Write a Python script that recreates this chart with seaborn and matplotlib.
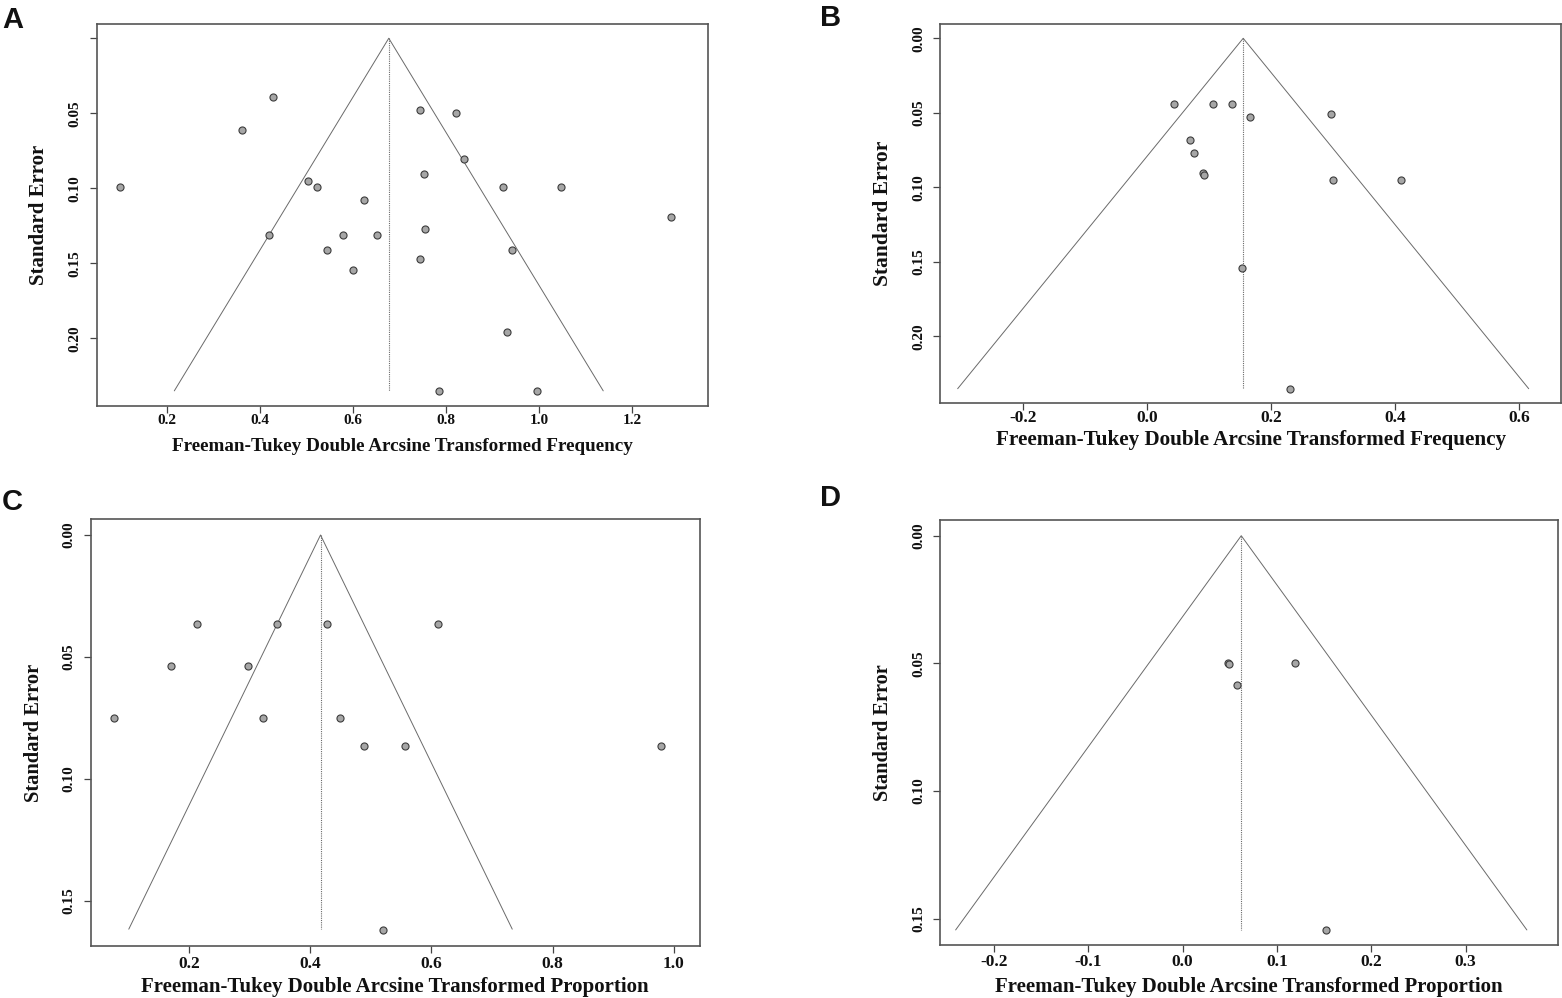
"""
Funnel plots (A-D) for Freeman-Tukey double arcsine transformed estimates.
"""

import matplotlib
matplotlib.use('Agg')
import matplotlib.pyplot as plt
import seaborn as sns
import pandas as pd

W, H = 1562, 998
Z = 1.96

# ---- data -------------------------------------------------------------
# A: transformed frequency
a_est = [0.4283, 0.3620, 0.7438, 0.8208, 0.8379, 0.7534, 0.0999, 0.5031,
         0.5235, 0.9224, 1.0475, 0.6240, 1.2828, 0.7545, 0.4197, 0.5791,
         0.6507, 0.5448, 0.9427, 0.7438, 0.5994, 0.9320, 0.7855, 0.9962]
a_se = [0.0389, 0.0609, 0.0480, 0.0496, 0.0804, 0.0904, 0.0989, 0.0951,
        0.0989, 0.0989, 0.0989, 0.1078, 0.1193, 0.1269, 0.1313, 0.1313,
        0.1313, 0.1413, 0.1413, 0.1473, 0.1542, 0.1960, 0.2350, 0.2350]
a_center = 0.677
a_se_max = 0.235

# B: transformed frequency
b_est = [0.0434, 0.1052, 0.1365, 0.1655, 0.2972, 0.0683, 0.0755, 0.0892,
         0.0908, 0.3004, 0.4096, 0.1526, 0.2305]
b_se = [0.0438, 0.0438, 0.0438, 0.0528, 0.0506, 0.0682, 0.0767, 0.0902,
        0.0919, 0.0953, 0.0953, 0.1541, 0.2352]
b_center = 0.1547
b_se_max = 0.2352

# C: transformed proportion
c_est = [0.2139, 0.3451, 0.4270, 0.6115, 0.1697, 0.2967, 0.0762, 0.3213,
         0.4492, 0.4885, 0.5566, 0.9795, 0.5205]
c_se = [0.0365, 0.0365, 0.0365, 0.0365, 0.0536, 0.0536, 0.0750, 0.0750,
        0.0750, 0.0863, 0.0863, 0.0863, 0.1620]
c_center = 0.417
c_se_max = 0.1615

# D: transformed proportion
d_est = [0.0485, 0.0496, 0.1192, 0.0575, 0.1524]
d_se = [0.0499, 0.0501, 0.0497, 0.0585, 0.1544]
d_center = 0.0622
d_se_max = 0.1544

a_xticks = [0.2, 0.4, 0.6, 0.8, 1.0, 1.2]
b_xticks = [-0.2, 0.0, 0.2, 0.4, 0.6]
c_xticks = [0.2, 0.4, 0.6, 0.8, 1.0]
d_xticks = [-0.2, -0.1, 0.0, 0.1, 0.2, 0.3]
ab_yticks = [0.00, 0.05, 0.10, 0.15, 0.20]
cd_yticks = [0.00, 0.05, 0.10, 0.15]
a_yticklabels = ['', '0.05', '0.10', '0.15', '0.20']

freq_label = 'Freeman-Tukey Double Arcsine Transformed Frequency'
prop_label = 'Freeman-Tukey Double Arcsine Transformed Proportion'
se_label = 'Standard Error'

sns.set_style('white')
plt.rcParams['font.family'] = ['Liberation Serif', 'DejaVu Serif']
plt.rcParams['font.weight'] = 'bold'


def px_axes(fig, x0, x1, y0, y1):
    """Add axes from a pixel box (top-left origin)."""
    return fig.add_axes([x0 / W, 1 - y1 / H, (x1 - x0) / W, (y1 - y0) / H])


def funnel(ax, est, se, center, se_max, xlim, ylim, xticks, yticks,
           xlabel, yticklabels=None, xtick_fs=12.5, ytick_fs=11,
           xlab_fs=15, ylab_fs=14.5, xpad=2, ypad=6.5,
           xlab_off=40, ylab_off=57, box=(600, 400)):
    df = pd.DataFrame({'est': est, 'se': se})
    # funnel limits and centre line
    ax.plot([center - Z * se_max, center, center + Z * se_max],
            [se_max, 0, se_max], color='#6a6a6a', lw=0.7, zorder=1)
    ax.plot([center, center], [0, se_max], color='#6a6a6a', lw=0.8,
            ls=(0, (1, 1)), zorder=1)
    sns.scatterplot(data=df, x='est', y='se', ax=ax, s=26, color='#a6a6a6',
                    edgecolor='#3c3c3c', linewidth=0.8, zorder=3, legend=False)

    ax.set_xlim(*xlim)
    ax.set_ylim(*ylim)
    ax.set_xticks(xticks)
    ax.set_xticklabels([f'{t:.1f}' for t in xticks], fontsize=xtick_fs,
                       fontweight='bold')
    ax.set_yticks(yticks)
    if yticklabels is None:
        yticklabels = [f'{t:.2f}' for t in yticks]
    ax.set_yticklabels(yticklabels, fontsize=ytick_fs, fontweight='bold',
                       rotation=90, va='center')
    ax.tick_params(bottom=True, left=True, direction='out', length=5,
                   width=0.9, color='#444444', labelcolor='#111111')
    ax.tick_params(axis='x', pad=xpad)
    ax.tick_params(axis='y', pad=ypad)
    for sp in ax.spines.values():
        sp.set_visible(True)
        sp.set_color('#555555')
        sp.set_linewidth(1.2)

    bw, bh = box
    ax.set_xlabel(xlabel, fontsize=xlab_fs, fontweight='bold', color='#111111')
    ax.set_ylabel(se_label, fontsize=ylab_fs, fontweight='bold', color='#111111')
    ax.xaxis.set_label_coords(0.5, -xlab_off / bh)
    ax.xaxis.label.set_va('center')
    ax.yaxis.set_label_coords(-ylab_off / bw, 0.5)
    ax.yaxis.label.set_va('center')


fig = plt.figure(figsize=(W / 100, H / 100), dpi=100)

ax_a = px_axes(fig, 96.7, 707.7, 24.3, 406)
funnel(ax_a, a_est, a_se, a_center, a_se_max, (0.0497, 1.362),
       (0.2451, -0.0093), a_xticks, ab_yticks, freq_label,
       yticklabels=a_yticklabels, xtick_fs=11, ytick_fs=11,
       xlab_fs=13.8, ylab_fs=15, xpad=1, ypad=6,
       xlab_off=40.7, ylab_off=58, box=(611, 381.7))

ax_b = px_axes(fig, 940, 1561.3, 24, 403.3)
funnel(ax_b, b_est, b_se, b_center, b_se_max, (-0.3348, 0.6683),
       (0.245, -0.0096), b_xticks, ab_yticks, freq_label,
       xlab_fs=15.2, ylab_fs=15.5, xpad=0, ypad=5.5,
       xlab_off=37, ylab_off=57, box=(621.3, 379.3))

ax_c = px_axes(fig, 90.7, 699.7, 519, 946)
funnel(ax_c, c_est, c_se, c_center, c_se_max, (0.0376, 1.043),
       (0.1684, -0.00656), c_xticks, cd_yticks, prop_label,
       xlab_fs=15, ylab_fs=14.8, xpad=2, ypad=6,
       xlab_off=40.7, ylab_off=56.7, box=(609, 427))

ax_d = px_axes(fig, 940, 1557.7, 520, 945)
funnel(ax_d, d_est, d_se, d_center, d_se_max, (-0.257, 0.3975),
       (0.1603, -0.00615), d_xticks, cd_yticks, prop_label,
       xlab_fs=15, ylab_fs=14.6, xpad=1.5, ypad=5.5,
       xlab_off=41.7, ylab_off=57.5, box=(617.7, 425))

# panel letters
for letter, (px, py) in zip('ABCD', [(2, 28), (820, 26), (2, 510), (820, 506)]):
    fig.text(px / W, 1 - py / H, letter, fontsize=21, fontweight='bold',
             family=['Liberation Sans', 'DejaVu Sans'], ha='left',
             va='baseline', color='#111111')

fig.savefig('out.png', dpi=100)
